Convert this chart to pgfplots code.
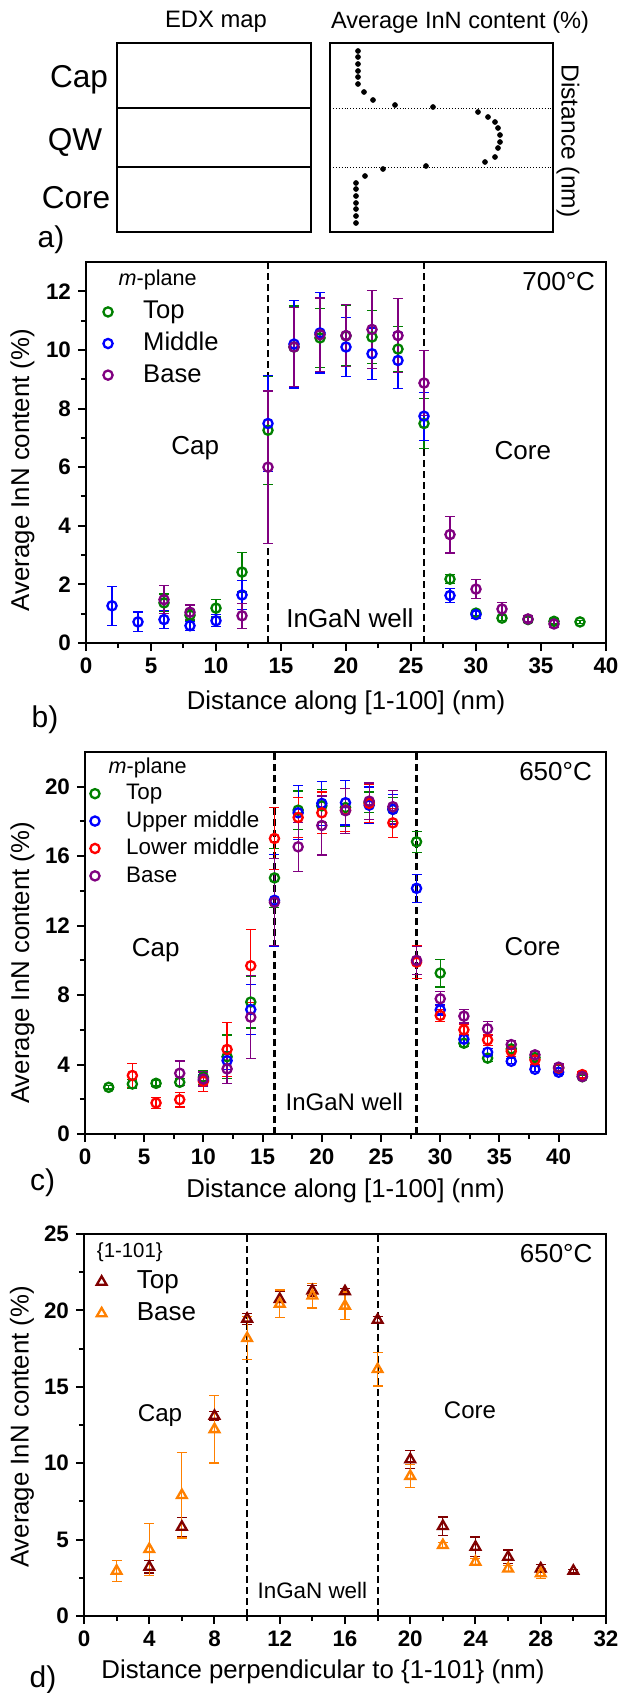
\documentclass[border=0pt]{standalone}
\usepackage{fontspec}
\setmainfont{Liberation Sans}
\usepackage{pgfplots}
\pgfplotsset{compat=1.18}

\definecolor{cTop}{RGB}{0,128,0}
\definecolor{cMid}{RGB}{0,0,255}
\definecolor{cLow}{RGB}{255,0,0}
\definecolor{cBase}{RGB}{128,0,128}
\definecolor{cWine}{RGB}{128,0,0}
\definecolor{cOrange}{RGB}{255,128,0}

\newcommand{\fs}[1]{\fontsize{#1}{#1}\selectfont}

\pgfplotsset{
  panel/.style={scale only axis, clip=false, axis line style={line width=1.1pt},
    tick pos=left, tick align=outside, major tick length=4pt, minor tick length=2.5pt,
    every tick/.style={black, line width=1pt},
    tick label style={font=\bfseries\fs{11.2}},
    /pgf/number format/assume math mode=true,
    label style={font=\fs{12.9}},
    legend cell align=left,
    legend style={draw=none, fill=none, inner sep=0pt, row sep=3.8pt,
      nodes={inner sep=0pt, text height=9.5pt, text depth=2.5pt},
      /tikz/every odd column/.append style={column sep=15.3pt}}},
  ebar/.style={only marks, mark=o, color=#1, mark size=2.3pt,
    mark options={line width=1.15pt, #1},
    legend image code/.code={\draw[##1] plot coordinates {(0pt,0pt)};},
    error bars/y dir=both, error bars/y explicit,
    error bars/error bar style={line width=0.6pt, #1},
    error bars/error mark options={rotate=90, mark size=2.5pt, line width=0.6pt, #1}},
  tbar/.style={ebar=#1, mark=triangle, mark size=2.8pt},
  vline/.style={black, line width=1.1pt, dash pattern=on 3.5pt off 2pt},
}

\begin{document}
\begin{tikzpicture}
\path[use as bounding box] (0,0) rectangle (308.5pt,-846.5pt);

% ---------- a) schematic ----------
\begin{axis}[at={(58.5pt,-116pt)}, anchor=south west, scale only axis, clip=false,
  width=97pt, height=94.5pt, xmin=117, xmax=311, ymin=43, ymax=232, y dir=reverse,
  xtick=\empty, ytick=\empty, axis line style={line width=0.6pt}]
  \addplot[black, line width=0.6pt] coordinates {(117,108) (311,108)};
  \addplot[black, line width=0.6pt] coordinates {(117,167) (311,167)};
  \node[font=\fs{15.8}] at (axis cs:79,80) {Cap};
  \node[font=\fs{15.8}] at (axis cs:75,142) {QW};
  \node[font=\fs{15.8}] at (axis cs:76,198) {Core};
  \node[font=\fs{11.9}] at (axis cs:216,22) {EDX map};
  \node[font=\fs{15}] at (axis cs:51,240) {a)};
\end{axis}
\begin{axis}[at={(165pt,-116pt)}, anchor=south west, scale only axis, clip=false,
  width=111.5pt, height=94.5pt, xmin=330, xmax=553, ymin=43, ymax=232, y dir=reverse,
  xtick=\empty, ytick=\empty, axis line style={line width=0.6pt}]
  \addplot[black, line width=0.45pt, densely dotted] coordinates {(330,108) (553,108)};
  \addplot[black, line width=0.45pt, densely dotted] coordinates {(330,167) (553,167)};
  \addplot[only marks, mark=*, mark size=1.2pt, black] coordinates {
    (358,51) (358,57) (358,64) (358,71) (358,77) (358,84) (364,92) (373,100)
    (395,105) (433,107) (478,112) (488,117) (495,122) (498,128) (500,135)
    (500,142) (498,148) (495,157) (485,162) (426,166) (383,169) (365,176)
    (356,183) (356,189) (356,196) (356,203) (356,209) (356,216) (356,223)};
  \node[font=\fs{11.8}] at (axis cs:460,22) {Average InN content (\%)};
  \node[font=\fs{12.3}, rotate=-90] at (axis cs:568,141) {Distance (nm)};
\end{axis}

% ---------- b) m-plane 700 C ----------
\begin{axis}[panel, at={(43pt,-321.5pt)}, anchor=south west, width=260pt, height=190.5pt,
  xmin=0, xmax=40, ymin=0, ymax=13, xtick={0,5,...,40}, ytick={0,2,...,12},
  minor x tick num=1, minor y tick num=1,
  xlabel={Distance along [1-100] (nm)}, ylabel={Average InN content (\%)},
  xlabel style={at={(axis description cs:0.5,-0.157)}, anchor=center},
  ylabel style={at={(axis description cs:-0.122,0.454)}, anchor=center},
  legend style={at={(axis cs:1.31,11.72)}, anchor=north west, font=\fs{12.8}}]
  \addplot[vline, forget plot] coordinates {(14,0) (14,13)};
  \addplot[vline, forget plot] coordinates {(26,0) (26,13)};
  \addplot[ebar=cTop] coordinates {
    (6,1.37) +- (0,0.3) (8,0.95) +- (0,0.2) (10,1.19) +- (0,0.3) (12,2.42) +- (0,0.68)
    (14,7.26) +- (0,1.85) (16,10.1) +- (0,1.4) (18,10.41) +- (0,1.0) (20,10.48) +- (0,1.03)
    (22,10.44) +- (0,0.9) (24,10.03) +- (0,0.77) (26,7.49) +- (0,0.85) (28,2.18) +- (0,0.15)
    (30,1.02) +- (0,0.1) (32,0.85) +- (0,0.08) (34,0.8) +- (0,0.08) (36,0.74) +- (0,0.08)
    (38,0.72) +- (0,0.06)};
  \addlegendentry{Top}
  \addplot[ebar=cMid] coordinates {
    (2,1.27) +- (0,0.67) (4,0.72) +- (0,0.34) (6,0.8) +- (0,0.3) (8,0.59) +- (0,0.15)
    (10,0.76) +- (0,0.2) (12,1.64) +- (0,0.5) (14,7.49) +- (0,1.65) (16,10.2) +- (0,1.5)
    (18,10.58) +- (0,1.37) (20,10.1) +- (0,1.0) (22,9.87) +- (0,0.88) (24,9.64) +- (0,0.95)
    (26,7.74) +- (0,0.82) (28,1.62) +- (0,0.25) (30,0.97) +- (0,0.12)};
  \addlegendentry{Middle}
  \addplot[ebar=cBase] coordinates {
    (6,1.48) +- (0,0.48) (8,1.05) +- (0,0.25) (12,0.93) +- (0,0.43) (14,6.0) +- (0,2.6)
    (16,10.1) +- (0,1.35) (18,10.52) +- (0,1.25) (20,10.49) +- (0,1.05) (22,10.7) +- (0,1.32)
    (24,10.49) +- (0,1.27) (26,8.87) +- (0,1.1) (28,3.7) +- (0,0.63) (30,1.84) +- (0,0.32)
    (32,1.16) +- (0,0.22) (34,0.82) +- (0,0.1) (36,0.65) +- (0,0.12)};
  \addlegendentry{Base}
  \node[anchor=west, font=\fs{10.8}] at (axis cs:1.97,12.4) {\textit{m}-plane};
  \node[anchor=east, font=\fs{13}] at (axis cs:39.7,12.35) {700°C};
  \node[font=\fs{13}] at (axis cs:8.4,6.65) {Cap};
  \node[font=\fs{13}] at (axis cs:33.6,6.58) {Core};
  \node[font=\fs{13}] at (axis cs:20.3,0.83) {InGaN well};
\end{axis}
\node[font=\fs{15}] at (22.5pt,-360pt) {b)};

% ---------- c) m-plane 650 C ----------
\begin{axis}[panel, at={(42.5pt,-567pt)}, anchor=south west, width=260.5pt, height=191pt,
  xmin=0, xmax=44, ymin=0, ymax=22, xtick={0,5,...,40}, ytick={0,4,...,20},
  minor x tick num=1, minor y tick num=1,
  xlabel={Distance along [1-100] (nm)}, ylabel={Average InN content (\%)},
  xlabel style={at={(axis description cs:0.5,-0.149)}, anchor=center},
  ylabel style={at={(axis description cs:-0.12,0.448)}, anchor=center},
  legend style={at={(axis cs:0.42,20.24)}, anchor=north west, font=\fs{11.2}, row sep=3pt,
    nodes={inner sep=0pt, text height=8.5pt, text depth=2.2pt},
    /tikz/every odd column/.append style={column sep=13.3pt}}]
  \addplot[vline, forget plot] coordinates {(16,0) (16,22)};
  \addplot[vline, forget plot] coordinates {(28,0) (28,22)};
  \addplot[ebar=cTop] coordinates {
    (2,2.69) +- (0,0.1) (4,2.88) +- (0,0.25) (6,2.92) +- (0,0.15) (8,2.98) +- (0,0.2)
    (10,3.27) +- (0,0.4) (12,4.45) +- (0,1.25) (14,7.6) +- (0,1.5) (16,14.75) +- (0,1.7)
    (18,18.65) +- (0,1.1) (20,18.9) +- (0,0.95) (22,18.8) +- (0,1.1) (24,19.1) +- (0,0.6)
    (26,18.7) +- (0,0.7) (28,16.83) +- (0,0.6) (30,9.27) +- (0,0.8) (32,5.23) +- (0,0.2)
    (34,4.37) +- (0,0.2) (36,4.9) +- (0,0.2) (38,4.4) +- (0,0.2) (40,3.8) +- (0,0.15)
    (42,3.3) +- (0,0.1)};
  \addlegendentry{Top}
  \addplot[ebar=cMid] coordinates {
    (10,3.1) +- (0,0.3) (12,4.23) +- (0,0.5) (14,7.17) +- (0,1.42) (16,13.46) +- (0,2.65)
    (18,18.5) +- (0,1.55) (20,19.04) +- (0,1.25) (22,19.08) +- (0,1.28) (24,18.94) +- (0,1.05)
    (26,18.7) +- (0,0.85) (28,14.15) +- (0,0.8) (30,7.15) +- (0,0.3) (32,5.46) +- (0,0.2)
    (34,4.71) +- (0,0.2) (36,4.19) +- (0,0.15) (38,3.73) +- (0,0.15) (40,3.56) +- (0,0.1)};
  \addlegendentry{Upper middle}
  \addplot[ebar=cLow] coordinates {
    (4,3.37) +- (0,0.7) (6,1.79) +- (0,0.3) (8,1.98) +- (0,0.42) (10,3.04) +- (0,0.58)
    (12,4.87) +- (0,1.55) (14,9.69) +- (0,2.1) (16,17.02) +- (0,1.8) (18,18.23) +- (0,1.15)
    (20,18.5) +- (0,1.2) (22,18.65) +- (0,1.25) (24,19.04) +- (0,1.1) (26,17.92) +- (0,0.83)
    (28,9.9) +- (0,0.95) (30,6.83) +- (0,0.35) (32,6.0) +- (0,0.3) (34,5.42) +- (0,0.3)
    (36,4.77) +- (0,0.3) (38,4.27) +- (0,0.3) (40,3.8) +- (0,0.2) (42,3.42) +- (0,0.15)};
  \addlegendentry{Lower middle}
  \addplot[ebar=cBase] coordinates {
    (8,3.5) +- (0,0.7) (10,3.17) +- (0,0.4) (12,3.75) +- (0,0.85) (14,6.73) +- (0,2.4)
    (16,13.35) +- (0,2.5) (18,16.54) +- (0,1.4) (20,17.77) +- (0,1.7) (22,18.62) +- (0,1.3)
    (24,19.17) +- (0,1.05) (26,18.85) +- (0,0.95) (28,10.0) +- (0,0.8) (30,7.79) +- (0,0.4)
    (32,6.79) +- (0,0.4) (34,6.06) +- (0,0.4) (36,5.15) +- (0,0.25) (38,4.56) +- (0,0.2)
    (40,3.85) +- (0,0.2) (42,3.31) +- (0,0.1)};
  \addlegendentry{Base}
  \node[anchor=west, font=\fs{10.8}] at (axis cs:1.4,21.1) {\textit{m}-plane};
  \node[anchor=east, font=\fs{13}] at (axis cs:43.4,20.9) {650°C};
  \node[font=\fs{13}] at (axis cs:5.97,10.58) {Cap};
  \node[font=\fs{12.9}] at (axis cs:37.8,10.77) {Core};
  \node[font=\fs{12}] at (axis cs:21.9,1.83) {InGaN well};
\end{axis}
\node[font=\fs{15}] at (21.25pt,-591.5pt) {c)};

% ---------- d) {1-101} 650 C ----------
\begin{axis}[panel, at={(42pt,-808pt)}, anchor=south west, width=261pt, height=191pt,
  xmin=0, xmax=32, ymin=0, ymax=25, xtick={0,4,...,32}, ytick={0,5,...,25},
  minor x tick num=1, minor y tick num=1,
  xlabel={Distance perpendicular to \{1-101\} (nm)}, ylabel={Average InN content (\%)},
  xlabel style={at={(axis description cs:0.458,-0.147)}, anchor=center},
  ylabel style={at={(axis description cs:-0.119,0.495)}, anchor=center},
  legend style={at={(axis cs:0.76,22.68)}, anchor=north west, font=\fs{13},
    /tikz/every odd column/.append style={column sep=15.2pt}}]
  \addplot[vline, forget plot] coordinates {(10,0) (10,25)};
  \addplot[vline, forget plot] coordinates {(18,0) (18,25)};
  \addplot[tbar=cWine] coordinates {
    (4,3.21) +- (0,0.4) (6,5.83) +- (0,0.6) (8,13.09) +- (0,0.3) (10,19.45) +- (0,0.35)
    (12,20.74) +- (0,0.5) (14,21.3) +- (0,0.35) (16,21.24) +- (0,0.2) (18,19.38) +- (0,0.2)
    (20,10.25) +- (0,0.6) (22,5.88) +- (0,0.6) (24,4.52) +- (0,0.65) (26,3.87) +- (0,0.45)
    (28,3.1) +- (0,0.25) (30,2.95) +- (0,0.1)};
  \addlegendentry{Top}
  \addplot[tbar=cOrange] coordinates {
    (2,2.95) +- (0,0.7) (4,4.37) +- (0,1.7) (6,7.91) +- (0,2.8) (8,12.22) +- (0,2.2)
    (10,18.18) +- (0,1.4) (12,20.43) +- (0,0.9) (14,20.96) +- (0,0.8) (16,20.3) +- (0,0.9)
    (18,16.15) +- (0,1.1) (20,9.16) +- (0,0.75) (22,4.63) +- (0,0.2) (24,3.54) +- (0,0.2)
    (26,3.1) +- (0,0.2) (28,2.78) +- (0,0.35)};
  \addlegendentry{Base}
  \node[anchor=west, font=\fs{10.2}] at (axis cs:0.36,23.8) {\{1-101\}};
  \node[anchor=east, font=\fs{13}] at (axis cs:31.6,23.75) {650°C};
  \node[font=\fs{12.1}] at (axis cs:4.66,13.15) {Cap};
  \node[font=\fs{12}] at (axis cs:23.66,13.5) {Core};
  \node[font=\fs{11.2}] at (axis cs:14.0,1.64) {InGaN well};
\end{axis}
\node[font=\fs{15}] at (21.5pt,-840pt) {d)};
\end{tikzpicture}
\end{document}
